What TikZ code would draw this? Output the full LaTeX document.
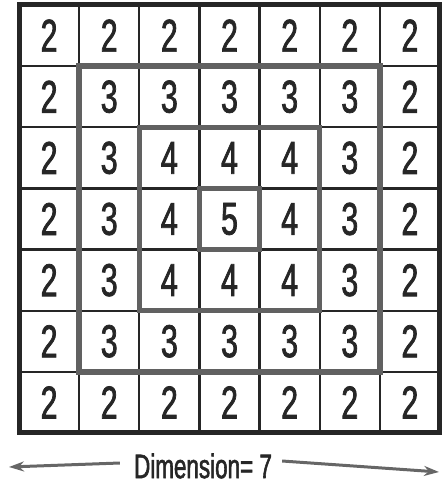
\documentclass[tikz,border=0pt]{standalone}
\usepackage{fontspec}
\usetikzlibrary{arrows.meta}
\newfontfamily\dinfont[FakeStretch=0.66,FakeBold=1.6]{Liberation Sans}
\begin{document}
\begin{tikzpicture}[x=1pt,y=-1pt,
  cellnum/.style={font=\dinfont\fontsize{46}{46}\selectfont, inner sep=0pt, text=black!85},
  thinline/.style={draw=black!85, line width=2.4pt},
  ringline/.style={draw=black!62, line width=5.5pt},
  frameline/.style={draw=black!85, line width=5pt},
  dimarrow/.style={draw=black!60, line width=3pt, -{Stealth[length=15pt,width=10pt]}}]
\useasboundingbox (0,0) rectangle (446,487);
\def\xa{19}\def\ya{5}\def\cw{60.14}\def\ch{61.14}
% thin grid lines
\foreach \i in {1,...,6}{
  \draw[thinline] ({\xa+\i*\cw},\ya) -- ({\xa+\i*\cw},{\ya+7*\ch});
  \draw[thinline] (\xa,{\ya+\i*\ch}) -- ({\xa+7*\cw},{\ya+\i*\ch});
}
% numbers
\foreach \r in {0,...,6}{
  \foreach \c in {0,...,6}{
    \pgfmathtruncatemacro{\dr}{min(\r,6-\r)}
    \pgfmathtruncatemacro{\dc}{min(\c,6-\c)}
    \pgfmathtruncatemacro{\v}{2+min(\dr,\dc)}
    \node[cellnum] (c-\r-\c) at ({\xa+(\c+0.5)*\cw},{\ya+(\r+0.5)*\ch}) {\v};
  }
}
% ring boundaries
\draw[ringline] ({\xa+1*\cw},{\ya+1*\ch}) rectangle ({\xa+6*\cw},{\ya+6*\ch});
\draw[ringline] ({\xa+2*\cw},{\ya+2*\ch}) rectangle ({\xa+5*\cw},{\ya+5*\ch});
\draw[ringline] ({\xa+3*\cw},{\ya+3*\ch}) rectangle ({\xa+4*\cw},{\ya+4*\ch});
% outer frame
\draw[frameline] (\xa,\ya) rectangle ({\xa+7*\cw},{\ya+7*\ch});
% dimension label
\node[font=\dinfont\fontsize{34}{34}\selectfont, inner sep=0pt, text=black!85] (dim) at (203,466) {Dimension= 7};
\coordinate (leftend) at (9,467);
\coordinate (rightend) at (439,472);
\draw[dimarrow] ([xshift=-14pt,yshift=3pt]dim.west) -- (leftend);
\draw[dimarrow] ([xshift=10pt,yshift=5pt]dim.east) -- (rightend);
\end{tikzpicture}
\end{document}
